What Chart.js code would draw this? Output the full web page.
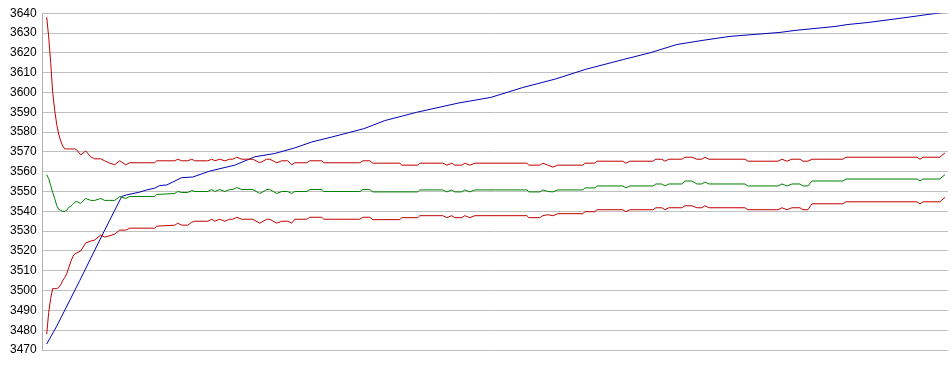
<!DOCTYPE html>
<html><head><meta charset="utf-8">
<script src="https://cdn.jsdelivr.net/npm/chart.js@4/dist/chart.umd.min.js"></script>
<style>html,body{margin:0;padding:0;background:#fff}</style>
</head><body>
<canvas id="c" width="950" height="375"></canvas>
<script>
// y axis range / ticks
const yMin = 3470, yMax = 3640, yStep = 10;

// blue series (sample index, value)
const blueT = [0,2.5,5,16.5,28,37.5,40,46.5,50,54,56.5,60,67.5,73,81.5,94,104,114,124,132.5,142.5,158.5,169,185,206,222,238,254,269.5,288.5,301.5,315,328,341.5,366.5,374,384,394,400.5,410.5,418,425.5,433,440,448,449];
const blueV = [3473,3477.5,3482,3505,3528.5,3547.5,3548.3,3549.7,3550.8,3551.7,3553,3553.3,3557,3557.3,3560.3,3563.3,3567.5,3569.2,3572,3575,3577.5,3581.7,3585.8,3590,3594.7,3597.5,3602.5,3606.7,3611.7,3616.7,3620,3624.2,3626.3,3628.3,3630.3,3631.3,3632.3,3633.3,3634.3,3635.3,3636.3,3637.3,3638.3,3639.3,3640.3,3640.5];

// band series (sample index, upper red, green, lower red)
const bandT = [0,1,2,3,4,5,6,7,8,9,10,11,12,13,14,15,17,19.5,22,24,27,29,31,34,36.5,39.5,41.5,54,55,64,65.5,67.5,70.5,72.5,74,80.5,82.5,84,86.5,89,91.5,93,95,97.5,103,106.5,110,111.5,115,117.5,120.5,122.5,124,130,131.5,137.5,138.5,156.5,158,161.5,163,176.5,177.5,185.5,186.5,198,200,202.5,204,207.5,209,211.5,214,240,241,246.5,248,250.5,253,255.5,268,269,274,275,288,289.5,291.5,303,304.5,307.5,309,311,317.5,319,322.5,325,327.5,329,331,349,350.5,365.5,367.5,370,372.5,376.5,378,380.5,382.5,398,399.5,435,436.5,438,446.5,447.5,449];
const upperV = [3638,3628,3615,3600,3591,3584,3579,3575.5,3573,3571.5,3571.5,3571.5,3571.5,3571.5,3571.5,3571,3568.5,3570.5,3567.5,3566.5,3566.5,3565.5,3564.5,3563.5,3565.5,3563.5,3564.5,3564.5,3565.5,3565.5,3566.3,3565.5,3565.5,3566.3,3565.5,3565.5,3566.3,3565.5,3566.3,3565.5,3566.3,3566.3,3567.3,3566.3,3566.3,3564.5,3566.3,3566.3,3564.5,3565.5,3565.5,3563.5,3564.5,3564.5,3565.5,3565.5,3564.5,3564.5,3565.5,3565.5,3564.3,3564.3,3563.3,3563.3,3564.3,3564.3,3563.3,3564.3,3563.3,3563.3,3564.3,3563.3,3564.3,3564.3,3563.3,3563.3,3564.3,3563.3,3562.3,3563.3,3563.3,3564.3,3564.3,3565.3,3565.3,3564.3,3565.3,3565.3,3566.3,3566.3,3565.3,3566.3,3566.3,3567.3,3567.3,3566.3,3566.3,3567.3,3566.3,3566.3,3565.3,3565.3,3566.3,3565.3,3566.3,3566.3,3565.3,3565.3,3566.3,3566.3,3567.3,3567.3,3566.3,3567.3,3567.3,3568.3,3569.5];
const meanV = [3558.5,3556.5,3553,3549.5,3546.5,3543,3541,3540.5,3540,3540,3540.5,3542,3542.5,3543.5,3544.5,3545,3544,3546.5,3545.5,3545.5,3546.5,3545.5,3545.5,3545.5,3547.5,3546.5,3547.5,3547.5,3548.5,3549,3550,3549.5,3549.5,3550.5,3550,3550,3551,3550,3551,3550,3551,3551,3552,3551,3551,3549,3551,3551,3549,3550,3550,3549,3550,3550,3551,3551,3550,3550,3551,3551,3549.8,3549.8,3549.8,3549.8,3550.8,3550.8,3549.8,3550.8,3549.8,3549.8,3550.8,3549.8,3550.8,3550.8,3549.8,3549.8,3550.8,3550,3549.8,3550.8,3550.8,3551.8,3551.8,3552.8,3552.8,3551.8,3552.8,3552.8,3553.8,3553.8,3552.8,3553.8,3553.8,3555.3,3555.3,3553.8,3553.8,3554.8,3553.8,3553.8,3552.8,3552.8,3553.8,3552.8,3553.8,3553.8,3552.8,3552.8,3555.3,3555.3,3556.3,3556.3,3555.3,3556.3,3556.3,3557.3,3558.5];
const lowerV = [3478,3489,3496,3501,3501,3501,3501.5,3503,3505,3506.5,3508.5,3511.5,3514.5,3517,3518.5,3519,3520,3524,3525,3525.5,3528,3527,3527.5,3528.5,3530.5,3530.5,3531.5,3531.5,3532.5,3533,3534,3533,3533,3534.5,3535,3535,3536,3535,3536,3535,3536,3536,3537,3536,3536,3534,3536,3536,3534,3535,3535,3534,3536,3536,3537,3537,3536,3536,3537,3537,3535.8,3535.8,3536.8,3536.8,3537.8,3537.8,3536.8,3537.8,3536.8,3536.8,3537.8,3536.8,3537.8,3537.8,3536.8,3536.8,3537.8,3538.3,3537.8,3538.8,3538.8,3539.8,3539.8,3540.8,3540.8,3539.8,3540.8,3540.8,3541.8,3541.8,3540.8,3541.8,3541.8,3542.8,3542.8,3541.8,3541.8,3542.8,3541.8,3541.8,3540.8,3540.8,3541.8,3540.8,3541.8,3541.8,3540.8,3540.8,3543.8,3543.8,3544.8,3544.8,3543.8,3544.8,3544.8,3545.8,3547];

const pts = (t, v) => t.map((x, i) => ({x, y: v[i]}));
const RED = '#c00000', GREEN = '#008000', BLUE = '#0000b4';
const ds = (data, color) => ({data, borderColor: color, borderWidth: 1, pointRadius: 0, tension: 0, fill: false});

new Chart(document.getElementById('c'), {
  type: 'line',
  data: {
    datasets: [
      ds(pts(bandT, upperV), RED),
      ds(pts(bandT, lowerV), RED),
      ds(pts(bandT, meanV), GREEN),
      ds(pts(blueT, blueV), BLUE)
    ]
  },
  options: {
    responsive: false,
    animation: false,
    devicePixelRatio: 1,
    layout: {padding: {top: 10, right: 2, bottom: 25, left: 4}},
    plugins: {legend: {display: false}, tooltip: {enabled: false}},
    scales: {
      x: {type: 'linear', min: -2, max: 450.5, display: false},
      y: {
        min: yMin, max: yMax,
        ticks: {stepSize: yStep, color: '#000', padding: 6, font: {family: 'Liberation Sans', size: 12}, callback: v => String(v)},
        grid: {color: '#c0c0c0', drawTicks: false},
        border: {color: '#b0b0b0'}
      }
    }
  }
});
</script>
</body></html>
